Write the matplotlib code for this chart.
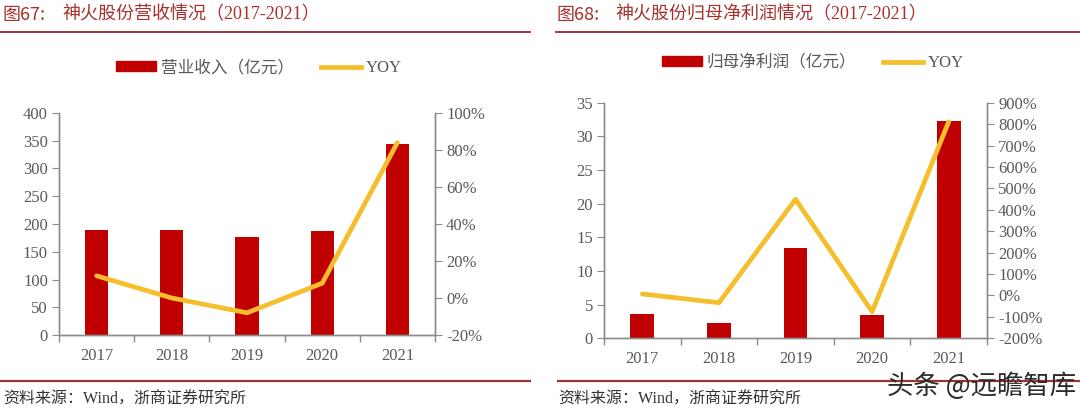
"""
神火股份营收与归母净利润（2017-2021），双轴柱线图。
"""

import matplotlib

matplotlib.use("Agg")
import matplotlib.pyplot as plt
from matplotlib.lines import Line2D
from matplotlib.patches import Patch
from matplotlib.ticker import FixedLocator, FuncFormatter, MultipleLocator

years = ["2017", "2018", "2019", "2020", "2021"]

revenue = [189, 189, 176, 188, 345]  # 亿元
revenue_yoy = [12, 0, -8, 8, 84]  # %

profit = [3.6, 2.3, 13.4, 3.5, 32.3]  # 亿元
profit_yoy = [7, -34, 449, -76, 811]  # %

W, H = 1080, 412
BAR = "#C00000"
LINE = "#F4BE2C"
RED_TXT = "#A8302E"
RULE = "#9C3533"
GRAY = "#595959"
AXIS = "#8C8C8C"

SERIF = ["Liberation Serif", "Noto Sans CJK SC"]
CJK = ["Noto Sans CJK SC", "Liberation Serif"]
plt.rcParams["font.family"] = SERIF


def fx(px):
    return px / W


def fy(py):
    return 1 - py / H


def draw_panel(fig, box, bars, yoy, ylim, ystep, rlim, rstep):
    x0, x1, ytop, ybot = box
    ax = fig.add_axes([fx(x0), fy(ybot), fx(x1 - x0), (ybot - ytop) / H])
    ax2 = ax.twinx()
    pos = list(range(len(years)))

    ax.bar(pos, bars, width=0.31, color=BAR, zorder=2)
    ax2.plot(pos, yoy, color=LINE, lw=3.4, solid_capstyle="round", zorder=3)

    ax.set_xlim(-0.5, len(years) - 0.5)
    ax.set_ylim(*ylim)
    ax.yaxis.set_major_locator(MultipleLocator(ystep))
    ax2.set_ylim(*rlim)
    ax2.yaxis.set_major_locator(MultipleLocator(rstep))
    ax2.yaxis.set_major_formatter(FuncFormatter(lambda v, _: f"{v:.0f}%"))

    ax.set_xticks(pos)
    ax.set_xticklabels(years)
    ax.xaxis.set_minor_locator(FixedLocator([p - 0.5 for p in range(len(years) + 1)]))
    ax.tick_params(axis="x", which="major", length=0, pad=9, labelsize=12, labelcolor=GRAY)
    ax.tick_params(axis="x", which="minor", length=5, color=AXIS, width=1)
    ax.tick_params(axis="y", length=5, color=AXIS, labelsize=12, labelcolor=GRAY, pad=3)
    ax2.tick_params(axis="y", length=5, color=AXIS, labelsize=12, labelcolor=GRAY, pad=3)

    for a in (ax, ax2):
        a.spines["top"].set_visible(False)
        for s in ("left", "right", "bottom"):
            a.spines[s].set_color(AXIS)
            a.spines[s].set_linewidth(1)
    ax.patch.set_visible(False)
    return ax, ax2


fig = plt.figure(figsize=(W / 100, H / 100), dpi=100)

# 左图：营业收入
draw_panel(fig, (59, 435, 113, 335), revenue, revenue_yoy, (0, 400), 50, (-20, 100), 20)
# 右图：归母净利润
draw_panel(fig, (604, 987, 102.7, 338.3), profit, profit_yoy, (0, 35), 5, (-200, 900), 100)

# 标题与分隔线
for num, title, xa, xb in (("图67:", "神火股份营收情况（2017-2021）", 3, 62),
                           ("图68:", "神火股份归母净利润情况（2017-2021）", 557, 615)):
    fig.text(fx(xa), fy(15), num, color=RED_TXT, fontsize=13, va="center", ha="left", family=CJK)
    fig.text(fx(xb), fy(15), title, color=RED_TXT, fontsize=13, va="center", ha="left", family=SERIF)
fig.add_artist(Line2D([fx(0), fx(530)], [fy(32), fy(32)], color=RULE, lw=1.4))
fig.add_artist(Line2D([fx(556), fx(1080)], [fy(32), fy(32)], color=RULE, lw=1.4))

# 图例
for label, cx, cy in (("营业收入（亿元）", 259, 68), ("归母净利润（亿元）", 813, 63)):
    handles = [Patch(color=BAR, label=label), Line2D([], [], color=LINE, lw=3.4, label="YOY")]
    fig.legend(handles=handles, loc="center", bbox_to_anchor=(fx(cx), fy(cy)), ncol=2,
               frameon=False, handlelength=2.4, handleheight=0.55,
               handletextpad=0.3, columnspacing=1.6, labelcolor=GRAY,
               prop={"family": SERIF, "size": 12})

# 底部分隔线与资料来源
fig.add_artist(Line2D([fx(0), fx(530)], [fy(381), fy(381)], color=RULE, lw=1.6))
fig.add_artist(Line2D([fx(558), fx(1080)], [fy(381), fy(381)], color=RULE, lw=1.6))
for xs in (3, 558):
    fig.text(fx(xs), fy(400), "资料来源：Wind，浙商证券研究所", fontsize=11.5, color="#333333",
             va="center", ha="left", family=SERIF)
fig.text(fx(1076), fy(386), "头条 @远瞻智库", fontsize=19, color="#2B2B2B",
         va="center", ha="right", family=CJK)

fig.savefig("out.png", dpi=100)
